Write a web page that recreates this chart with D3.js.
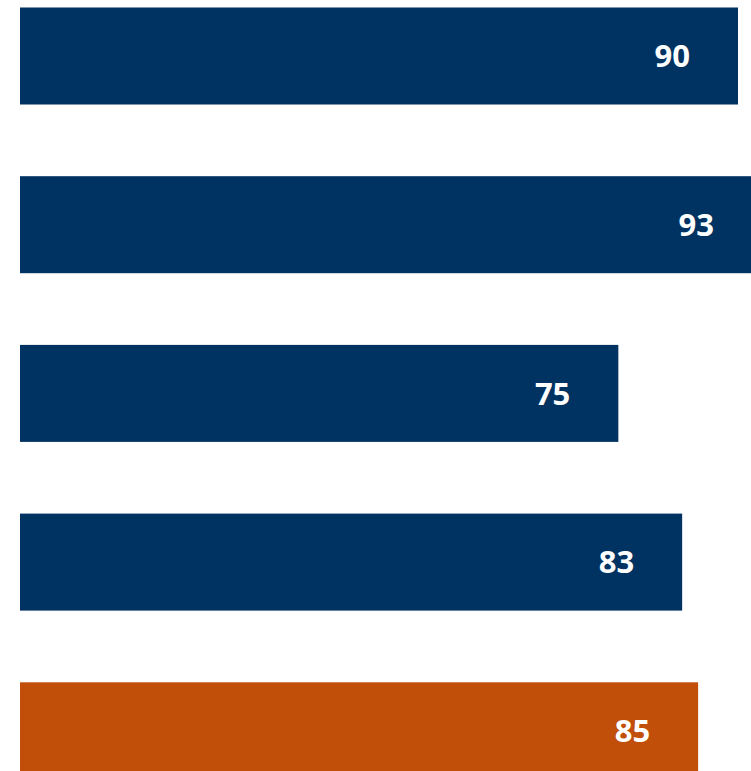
<!DOCTYPE html>
<html>
<head>
<meta charset="utf-8">
<script src="https://cdn.jsdelivr.net/npm/d3@7"></script>
<style>
  html, body { margin: 0; padding: 0; background: #fff; overflow: hidden; }
</style>
</head>
<body>
<div id="chart"></div>
<script>
// chart data
const categories = ["A", "B", "C", "D", "E"];
const values = [90, 93, 75, 83, 85];
const highlighted = ["E"];

const width = 751;
const height = 771;

const svg = d3.select("#chart")
  .append("svg")
  .attr("width", width)
  .attr("height", height);

const x = d3.scaleLinear()
  .domain([0, 90])
  .range([20, 738]);

const step = 168.7;
const barH = 97;
const y = d3.scaleBand()
  .domain(categories)
  .range([7.5, 7.5 + step * 4 + barH])
  .paddingInner((step - barH) / step)
  .paddingOuter(0);

const data = categories.map((c, i) => ({ name: c, value: values[i] }));

// bars
svg.selectAll("rect.bar")
  .data(data)
  .enter()
  .append("rect")
  .attr("class", "bar")
  .attr("x", x(0))
  .attr("y", d => y(d.name))
  .attr("width", d => x(d.value) - x(0))
  .attr("height", y.bandwidth())
  .attr("fill", d => highlighted.includes(d.name) ? "#C14F09" : "#003262");

// value labels
svg.selectAll("text.label")
  .data(data)
  .enter()
  .append("text")
  .attr("class", "label")
  .attr("x", d => x(d.value) - 48)
  .attr("y", d => y(d.name) + y.bandwidth() / 2)
  .attr("dy", "0.36em")
  .style("text-anchor", "end")
  .style("font-family", "'Open Sans', sans-serif")
  .style("font-size", "31px")
  .style("font-weight", "bold")
  .attr("fill", "#fff")
  .text(d => d.value);
</script>
</body>
</html>
